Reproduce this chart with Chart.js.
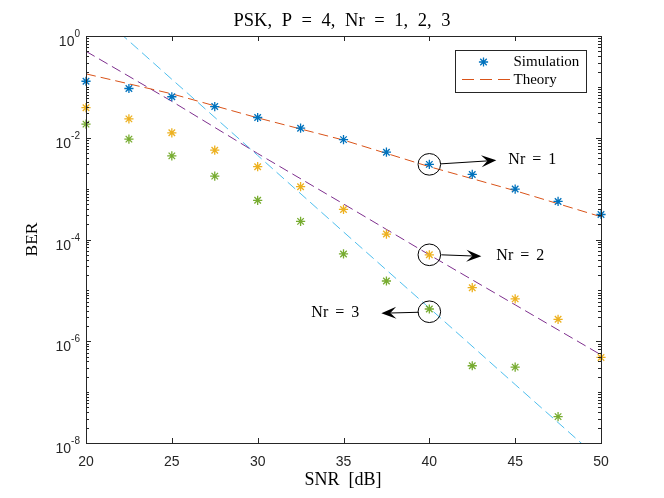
<!DOCTYPE html>
<html><head><meta charset="utf-8">
<script src="https://cdn.jsdelivr.net/npm/chart.js@4/dist/chart.umd.min.js"></script>
<style>html,body{margin:0;padding:0;background:#fff;}#wrap{width:664px;height:498px;position:relative}</style>
</head><body><div id="wrap"><canvas id="c" width="664" height="498"></canvas></div>
<script>
// ---- data ----
const snr = [20, 22.5, 25, 27.5, 30, 32.5, 35, 37.5, 40, 42.5, 45, 47.5, 50];
const simNr1 = [0.129, 0.093, 0.064, 0.041, 0.025, 0.0154, 0.0092, 0.0052, 0.0030, 0.0019, 0.00098, 0.00056, 0.00031];
const simNr2 = [0.039, 0.0235, 0.0125, 0.0057, 0.0027, 0.00109, 3.9e-4, 1.28e-4, 5.0e-5, 1.13e-5, 6.8e-6, 2.7e-6, 4.8e-7];
const simNr3 = [0.0185, 0.0094, 0.0044, 0.00176, 5.9e-4, 2.27e-4, 5.2e-5, 1.53e-5, 4.3e-6, 3.3e-7, 3.1e-7, 3.3e-8, null];
const theorySnr = [20, 25, 30, 35, 40, 45, 50];
const theoryNr1 = [0.18, 0.073, 0.0246, 0.009, 0.0027, 9.1e-4, 2.8e-4];
const theoryNr2 = [0.5, 0.052, 0.0049, 5.0e-4, 5.0e-5, 5.2e-6, 5.4e-7];
const theoryNr3 = [4.5, 0.141, 4.5e-3, 1.41e-4, 4.5e-6, 1.41e-7, 4.5e-9];
const xTicks = [20, 25, 30, 35, 40, 45, 50];
const yTickExps = [0, -2, -4, -6, -8];
const titleText = 'PSK, P = 4, Nr = 1, 2, 3';
const xLabel = 'SNR [dB]';
const yLabel = 'BER';
const legendLabels = ['Simulation', 'Theory'];
const annoLabels = ['Nr = 1', 'Nr = 2', 'Nr = 3'];
const annoSnr = 40;
const annoBer = [0.0030, 5.0e-5, 3.8e-6];

const C = {blue:'#0072BD', orange:'#D95319', yellow:'#EDB120', purple:'#7E2F8E', green:'#77AC30', cyan:'#4DBEEE', axis:'#262626'};

function pts(xs, ys){ return xs.map((x,i)=>({x:x, y:ys[i]})).filter(p=>p.y!==null); }

function simSet(data, color){
  return {data: pts(snr, data), showLine:false, pointStyle:'star', pointRadius:4.6, pointBorderWidth:1.3,
    borderColor:color, backgroundColor:color, clip:false, order:1};
}
function thSet(data, color){
  return {data: pts(theorySnr, data), showLine:true, pointRadius:0, borderColor:color, borderWidth:1,
    borderDash:[10,5], fill:false, tension:0, order:2};
}

const SERIF = '"Liberation Serif", "DejaVu Serif", serif';
const SANS = '"Liberation Sans", Arial, sans-serif';

// draw text whose word gaps are widened so the whole string spans targetW (LaTeX-like spacing)
function drawSpaced(ctx, text, x, y, align, targetW){
  const words = text.split(' ');
  const ws = words.map(w=>ctx.measureText(w).width);
  const sum = ws.reduce((a,b)=>a+b,0);
  const gap = words.length>1 ? Math.max(ctx.measureText(' ').width, (targetW - sum)/(words.length-1)) : 0;
  const total = sum + gap*(words.length-1);
  let sx = align==='center' ? x - total/2 : (align==='right' ? x - total : x);
  const prev = ctx.textAlign; ctx.textAlign = 'left';
  words.forEach((w,i)=>{ ctx.fillText(w, sx, y); sx += ws[i] + gap; });
  ctx.textAlign = prev;
}

function arrow(ctx, x1, y1, x2, y2){
  ctx.save();
  ctx.strokeStyle = '#000'; ctx.fillStyle = '#000'; ctx.lineWidth = 1;
  const ang = Math.atan2(y2-y1, x2-x1);
  const L = 15, W = 6;
  const bx = x2 - L*Math.cos(ang), by = y2 - L*Math.sin(ang);
  const nx = x2 - 0.6*L*Math.cos(ang), ny = y2 - 0.6*L*Math.sin(ang);
  ctx.beginPath(); ctx.moveTo(x1,y1); ctx.lineTo(nx,ny); ctx.stroke();
  const px = -Math.sin(ang), py = Math.cos(ang);
  ctx.beginPath();
  ctx.moveTo(x2,y2);
  ctx.lineTo(bx + W*px, by + W*py);
  ctx.lineTo(nx, ny);
  ctx.lineTo(bx - W*px, by - W*py);
  ctx.closePath(); ctx.fill();
  ctx.restore();
}

const decor = {
  id:'decor',
  afterDraw(chart){
    const ctx = chart.ctx, a = chart.chartArea, xs = chart.scales.x, ys = chart.scales.y;
    ctx.save();
    // box
    ctx.strokeStyle = C.axis; ctx.lineWidth = 1;
    ctx.strokeRect(Math.round(a.left)+0.5, Math.round(a.top)+0.5, Math.round(a.right-a.left), Math.round(a.bottom-a.top));
    // x ticks
    ctx.beginPath();
    xTicks.forEach(v=>{
      const px = Math.round(xs.getPixelForValue(v))+0.5;
      ctx.moveTo(px, a.bottom); ctx.lineTo(px, a.bottom-5);
      ctx.moveTo(px, a.top); ctx.lineTo(px, a.top+5);
    });
    // y ticks
    for(let e=-8; e<=0; e++){
      for(let k=1; k<=9; k++){
        const v = k*Math.pow(10,e);
        if(v>1.0000001) continue;
        const major = (k===1 && yTickExps.includes(e));
        const len = major ? 5 : 3;
        const py = Math.round(ys.getPixelForValue(v))+0.5;
        ctx.moveTo(a.left, py); ctx.lineTo(a.left+len, py);
        ctx.moveTo(a.right, py); ctx.lineTo(a.right-len, py);
      }
    }
    ctx.stroke();
    // x tick labels
    ctx.fillStyle = C.axis; ctx.font = '14px '+SANS; ctx.textAlign='center'; ctx.textBaseline='middle';
    xTicks.forEach(v=>{ ctx.fillText(String(v), xs.getPixelForValue(v), a.bottom+19.5); });
    // y tick labels
    ctx.textBaseline='alphabetic'; ctx.textAlign='left';
    yTickExps.forEach(e=>{
      const py = ys.getPixelForValue(Math.pow(10,e));
      const ex = String(e);
      ctx.font = '10px '+SANS; const we = ctx.measureText(ex).width;
      ctx.font = '14px '+SANS; const wb = ctx.measureText('10').width;
      const right = a.left - 6;
      ctx.fillText('10', right - we - wb, py + 10);
      ctx.font = '10px '+SANS;
      ctx.fillText(ex, right - we, py + 1);
    });
    // title & axis labels
    ctx.fillStyle = '#000'; ctx.textBaseline='alphabetic';
    ctx.font = '18.5px '+SERIF;
    drawSpaced(ctx, titleText, 342, 26, 'center', 217);
    ctx.font = '18px '+SERIF;
    drawSpaced(ctx, xLabel, 343, 485, 'center', 77);
    ctx.save(); ctx.translate(37, (a.top+a.bottom)/2); ctx.rotate(-Math.PI/2);
    ctx.textAlign='center'; ctx.font = '17.5px '+SERIF;
    ctx.fillText(yLabel, 0, 0); ctx.restore();
    // legend
    const lx=455, ly=50, lw=131, lh=42;
    ctx.fillStyle='#fff'; ctx.fillRect(lx,ly,lw,lh);
    ctx.strokeStyle = C.axis; ctx.lineWidth=1; ctx.strokeRect(lx+0.5,ly+0.5,lw,lh);
    const mx=483.5, my=62, r=4.6;
    ctx.strokeStyle=C.blue; ctx.lineWidth=1.3; ctx.beginPath();
    ctx.moveTo(mx-r,my); ctx.lineTo(mx+r,my); ctx.moveTo(mx,my-r); ctx.lineTo(mx,my+r);
    const d=r*0.7071; ctx.moveTo(mx-d,my-d); ctx.lineTo(mx+d,my+d); ctx.moveTo(mx-d,my+d); ctx.lineTo(mx+d,my-d);
    ctx.stroke();
    ctx.strokeStyle=C.orange; ctx.lineWidth=1; ctx.setLineDash([12,6]); ctx.beginPath();
    ctx.moveTo(462,79.5); ctx.lineTo(510,79.5); ctx.stroke(); ctx.setLineDash([]);
    ctx.fillStyle='#000'; ctx.textAlign='left'; ctx.textBaseline='middle'; ctx.font='15px '+SERIF;
    ctx.fillText(legendLabels[0], 513.5, 62);
    ctx.fillText(legendLabels[1], 513.5, 80);
    // annotations
    const cx = xs.getPixelForValue(annoSnr);
    const c1 = ys.getPixelForValue(annoBer[0]), c2 = ys.getPixelForValue(annoBer[1]), c3 = ys.getPixelForValue(annoBer[2]);
    ctx.strokeStyle='#000'; ctx.lineWidth=1;
    [c1,c2,c3].forEach(cy=>{ ctx.beginPath(); ctx.ellipse(cx, cy, 11.3, 10.8, 0, 0, Math.PI*2); ctx.stroke(); });
    arrow(ctx, cx+11.5, c1-0.5, cx+67, c1-4);
    arrow(ctx, cx+12, c2, cx+52, c2+1.5);
    arrow(ctx, cx-10.5, c3+0.5, cx-48, c3+1.5);
    ctx.font='16px '+SERIF; ctx.textBaseline='middle';
    drawSpaced(ctx, annoLabels[0], cx+79, c1-5, 'left', 48);
    drawSpaced(ctx, annoLabels[1], cx+67, c2+1, 'left', 48);
    drawSpaced(ctx, annoLabels[2], cx-70, c3+1.5, 'right', 48);
    ctx.restore();
  }
};

new Chart(document.getElementById('c'), {
  type:'scatter',
  data:{datasets:[
    simSet(simNr1, C.blue), simSet(simNr2, C.yellow), simSet(simNr3, C.green),
    thSet(theoryNr1, C.orange), thSet(theoryNr2, C.purple), thSet(theoryNr3, C.cyan)
  ]},
  options:{
    responsive:false, animation:false, devicePixelRatio:1,
    layout:{padding:{left:0, top:36, right:63, bottom:0}},
    plugins:{legend:{display:false}, title:{display:false}, tooltip:{enabled:false}},
    scales:{
      x:{type:'linear', min:20, max:50, ticks:{display:false}, grid:{display:false}, border:{display:false},
         afterFit(s){ s.height = 55; }},
      y:{type:'logarithmic', min:1e-8, max:1, ticks:{display:false}, grid:{display:false}, border:{display:false},
         afterFit(s){ s.width = 86; }}
    }
  },
  plugins:[decor]
});
</script></body></html>
